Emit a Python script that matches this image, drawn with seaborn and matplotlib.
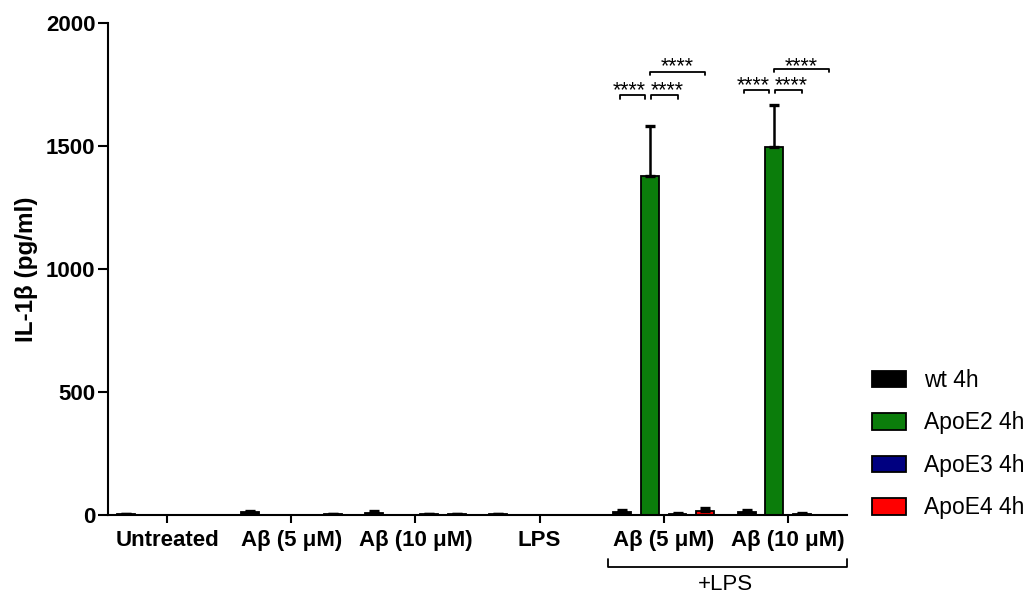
import matplotlib
matplotlib.use("Agg")
import matplotlib.pyplot as plt
import matplotlib.transforms as mtransforms
import seaborn as sns
import pandas as pd
import numpy as np

# ---- data ----
conditions = ["Untreated", "Aβ (5 μM)", "Aβ (10 μM)", "LPS", "Aβ (5 μM)", "Aβ (10 μM)"]
cond_ids = ["c0", "c1", "c2", "c3", "c4", "c5"]
genotypes = ["wt 4h", "ApoE2 4h", "ApoE3 4h", "ApoE4 4h"]
colors = ["#000000", "#0b7d0b", "#000080", "#ff0000"]

wt_vals = [4, 12, 10, 3, 12, 12]
wt_err = [2, 6, 8, 2, 7, 8]
e2_vals = [0, 0, 0, 0, 1380, 1497]
e2_err = [0, 0, 0, 0, 201, 170]
e3_vals = [0, 0, 3, 0, 5, 5]
e3_err = [0, 0, 3, 0, 4, 4]
e4_vals = [0, 3, 3, 0, 15, 0]
e4_err = [0, 3, 3, 0, 15, 0]

vals = [wt_vals, e2_vals, e3_vals, e4_vals]
errs = [wt_err, e2_err, e3_err, e4_err]

sig_label = "****"
lps_label = "+LPS"
ylabel = "IL-1β (pg/ml)"
yticks = [0, 500, 1000, 1500, 2000]

rows = []
for g, v in zip(genotypes, vals):
    for c, x in zip(cond_ids, v):
        rows.append({"cond": c, "geno": g, "val": x})
df = pd.DataFrame(rows)

# ---- figure ----
sns.set_theme(style="ticks")
plt.rcParams["font.family"] = ["Liberation Sans", "DejaVu Sans"]
plt.rcParams["text.color"] = "black"
plt.rcParams["axes.labelcolor"] = "black"

W, H = 1033, 595
fig = plt.figure(figsize=(W / 100, H / 100), dpi=100)
ax = fig.add_axes([108 / W, (H - 515) / H, (847 - 108) / W, (515 - 23) / H])

sns.barplot(data=df, x="cond", y="val", hue="geno", order=cond_ids,
            hue_order=genotypes, palette=colors, saturation=1, width=0.887,
            gap=0.35, edgecolor="black", linewidth=1.3, errorbar=None, ax=ax)

handles, labels = ax.get_legend_handles_labels()
if ax.get_legend() is not None:
    ax.get_legend().remove()

bar_conts = list(ax.containers)[:len(genotypes)]

# error bars (upper only)
centers = []
for gi, cont in enumerate(bar_conts):
    cs = []
    for ci, bar in enumerate(cont.patches):
        x = bar.get_x() + bar.get_width() / 2
        h = bar.get_height()
        cs.append(x)
        e = errs[gi][ci]
        if e > 0:
            ax.errorbar([x], [h], yerr=[[0], [e]], fmt="none", ecolor="black",
                        elinewidth=1.8, capsize=3.6, capthick=2.4, zorder=5)
    centers.append(cs)

ax.set_xlim(-0.476, 5.476)
ax.set_ylim(0, 2000)
ax.set_yticks(yticks)
ax.set_yticklabels([str(t) for t in yticks])
ax.set_xticks(range(len(conditions)))
ax.set_xticklabels(conditions)
ax.set_xlabel("")
ax.set_ylabel(ylabel, fontsize=17.5, fontweight="bold", labelpad=6,
              color="black")

for lab in ax.get_xticklabels() + ax.get_yticklabels():
    lab.set_fontweight("bold")
    lab.set_fontsize(16)
    lab.set_color("black")

sns.despine(ax=ax)
for s in ["left", "bottom"]:
    ax.spines[s].set_linewidth(1.5)
    ax.spines[s].set_color("black")
ax.tick_params(axis="y", length=7, width=1.5, pad=2, colors="black")
ax.tick_params(axis="x", length=6, width=1.5, pad=5, colors="black")
ax.set_facecolor("white")

# significance brackets
def bracket(x1, x2, y, text, ty, dx=0.0, drop=14):
    ax.plot([x1, x1, x2, x2], [y - drop, y, y, y - drop], color="black",
            lw=1.3, clip_on=False, zorder=6)
    ax.text((x1 + x2) / 2 + dx, ty, text, ha="center", va="center",
            fontsize=15.5, color="black")

for gi, (ylow, yhigh, tlow, thigh) in zip([4, 5], [(1707, 1801, 1725, 1822),
                                                    (1728, 1813, 1745, 1822)]):
    xw, xg, xb, xr = (centers[k][gi] for k in range(4))
    bracket(xw - 0.02, xg - 0.04, ylow, sig_label, tlow, dx=-0.025)
    bracket(xg + 0.01, xb, ylow, sig_label, tlow, dx=0.02)
    bracket(xg, xr, yhigh, sig_label, thigh)

# +LPS bracket below axis
trans = mtransforms.blended_transform_factory(ax.transData, ax.transAxes)
ax.plot([3.55, 3.55, 5.48, 5.48], [-0.089, -0.106, -0.106, -0.089],
        color="black", lw=1.3, transform=trans, clip_on=False)
ax.text(4.5, -0.142, lps_label, transform=trans, ha="center", va="center",
        fontsize=16, color="black")

# legend
leg = fig.legend(handles, labels, loc="upper left",
                 bbox_to_anchor=(872 / W, 1 - 369 / H), frameon=False,
                 fontsize=16.5, handlelength=1.5, handleheight=0.75,
                 handletextpad=0.75, labelspacing=0.85, borderpad=0,
                 borderaxespad=0)
for t in leg.get_texts():
    t.set_color("black")

fig.savefig("out.png", dpi=100, facecolor="white")
